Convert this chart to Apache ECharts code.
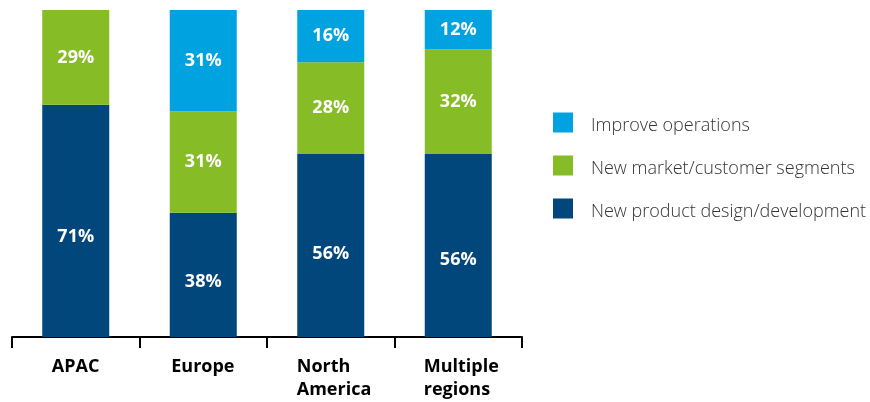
<!DOCTYPE html>
<html><head><meta charset="utf-8">
<script src="https://cdn.jsdelivr.net/npm/echarts@6/dist/echarts.min.js"></script>
<style>html,body{margin:0;padding:0;background:#fff}#c{width:870px;height:402px}</style>
</head><body><div id="c"></div>
<script>
const categories = ['APAC', 'Europe', 'North\nAmerica', 'Multiple\nregions'];
const seriesNames = ['New product design/development', 'New market/customer segments', 'Improve operations'];
const productDesign = [71, 38, 56, 56];
const newMarket = [29, 31, 28, 32];
const improveOps = [0, 31, 16, 12];
const colors = ['#01477b', '#86bc25', '#00a3e0'];

// style only: vertical nudges of the dark-segment labels as in the reference
const darkLabelShift = [16, 7, 8, 14];

const font = '"Open Sans", "Noto Sans", sans-serif';
const ctx = document.createElement('canvas').getContext('2d');
ctx.font = 'bold 18px "Open Sans"';
const rich = {};
categories.forEach((c, i) => {
  const lines = c.split('\n');
  const w = Math.max(...lines.map(s => ctx.measureText(s).width));
  rich['w' + i] = {width: Math.ceil(w), align: 'left', color: '#000', fontWeight: 'bold', fontSize: 18,
    fontFamily: font, lineHeight: 23, padding: lines.length > 1 ? [0, 0, 0, 7] : 0};
});

const chart = echarts.init(document.getElementById('c'), null, {renderer: 'canvas'});
const mk = (name, data, color, shifts) => ({
  name, type: 'bar', stack: 'a', barWidth: 67,
  data: data.map((v, i) => shifts ? {value: v, label: {offset: [0, shifts[i]]}} : v),
  itemStyle: {color},
  label: {show: true, position: 'inside', color: '#fff', fontWeight: 'bold', fontSize: 18, fontFamily: font,
    formatter: p => p.value ? p.value + '%' : ''}
});
chart.setOption({
  animation: false,
  grid: {left: 12, right: 348, top: 10, bottom: 65},
  legend: {
    orient: 'vertical', left: 553, top: 111, padding: 0,
    itemWidth: 20, itemHeight: 20, itemGap: 19, icon: 'rect',
    data: [seriesNames[2], seriesNames[1], seriesNames[0]],
    formatter: n => '{s| }\n{t|' + n + '}',
    textStyle: {fontSize: 18, fontWeight: 300, color: '#333', fontFamily: font, padding: [0, 0, 0, 13],
      rich: {
        s: {fontSize: 1, lineHeight: 7},
        t: {fontSize: 18, fontWeight: 300, color: '#333', fontFamily: font, lineHeight: 22}
      }}
  },
  xAxis: {
    type: 'category', data: categories, offset: 3,
    axisLine: {lineStyle: {color: '#000', width: 2}},
    axisTick: {show: true, interval: 0, length: 11, lineStyle: {color: '#000', width: 2}},
    axisLabel: {interval: 0, color: '#000', fontWeight: 'bold', fontSize: 18, fontFamily: font, lineHeight: 23, margin: 15,
      formatter: (v, i) => v.split('\n').map(s => '{w' + i + '|' + s + '}').join('\n'), rich}
  },
  yAxis: {type: 'value', min: 0, max: 100, show: false},
  series: [
    mk(seriesNames[0], productDesign, colors[0], darkLabelShift),
    mk(seriesNames[1], newMarket, colors[1]),
    mk(seriesNames[2], improveOps, colors[2])
  ]
});
</script></body></html>
